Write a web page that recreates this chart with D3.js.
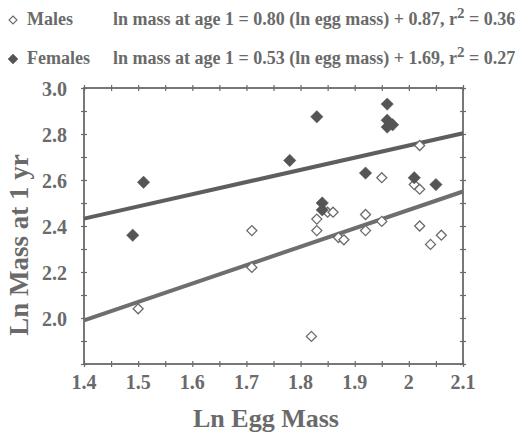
<!DOCTYPE html>
<html>
<head>
<meta charset="utf-8">
<script src="https://cdn.jsdelivr.net/npm/d3@7"></script>
<style>
  body { margin: 0; background: #fff; }
  svg { display: block; font-family: "Liberation Serif", "Times New Roman", serif; font-weight: bold; }
</style>
</head>
<body>
<div id="app"></div>
<script>
// ln egg mass vs ln mass at 1 yr
const males = [
  [1.50, 2.04], [1.71, 2.22], [1.71, 2.38], [1.82, 1.92], [1.83, 2.38],
  [1.83, 2.43], [1.85, 2.46], [1.86, 2.46], [1.87, 2.35], [1.88, 2.34],
  [1.92, 2.38], [1.92, 2.45], [1.95, 2.42], [1.95, 2.61], [2.01, 2.58],
  [2.02, 2.56], [2.02, 2.75], [2.02, 2.40], [2.04, 2.32], [2.06, 2.36]
];
const females = [
  [1.49, 2.36], [1.51, 2.59], [1.78, 2.685], [1.83, 2.875], [1.84, 2.50],
  [1.84, 2.47], [1.92, 2.63], [1.96, 2.93], [1.96, 2.86], [1.97, 2.84],
  [1.96, 2.83], [2.01, 2.61], [2.05, 2.58]
];
// fitted lines, endpoints at the frame edges
const maleFit = [[1.4, 1.99], [2.1, 2.55]];
const femaleFit = [[1.4, 2.432], [2.1, 2.803]];

const xTicks = [1.4, 1.5, 1.6, 1.7, 1.8, 1.9, 2.0, 2.1];
const yTicks = [2.0, 2.2, 2.4, 2.6, 2.8, 3.0];
const legendRows = [
  { label: "Males", filled: false, eq: "ln mass at age 1 = 0.80 (ln egg mass) + 0.87, r", r2: " = 0.36" },
  { label: "Females", filled: true, eq: "ln mass at age 1 = 0.53 (ln egg mass) + 1.69, r", r2: " = 0.27" }
];

const width = 521, height = 434;
const grey = "#6a6a6a";
const dark = "#555";

const x = d3.scaleLinear().domain([1.4, 2.1]).range([84, 463]);
const y = d3.scaleLinear().domain([1.8, 3.0]).range([364, 88]);

const svg = d3.select("#app").append("svg").attr("width", width).attr("height", height);

function diamond(r) {
  return `M0,${-r}L${r},0L0,${r}L${-r},0Z`;
}

// FRAME + TICKS (ticks cross the line, on all four sides)
function crossTicks(g, horizontal) {
  g.select(".domain").remove();
  g.selectAll(".tick line")
    .attr(horizontal ? "y1" : "x1", -3)
    .attr(horizontal ? "y2" : "x2", 3)
    .attr("stroke", grey)
    .attr("stroke-width", 1.2);
}
const xMinor = d3.range(14, 21.5, 0.5).map(d => d / 10);
const yMinor = d3.range(18, 30.5, 1).map(d => d / 10);

svg.append("g").attr("transform", `translate(0,${y(1.8)})`)
  .call(d3.axisBottom(x).tickValues(xMinor).tickFormat(""))
  .call(g => crossTicks(g, true));
svg.append("g").attr("transform", `translate(0,${y(3.0)})`)
  .call(d3.axisTop(x).tickValues(xMinor).tickFormat(""))
  .call(g => crossTicks(g, true));
svg.append("g").attr("transform", `translate(${x(1.4)},0)`)
  .call(d3.axisLeft(y).tickValues(yMinor).tickFormat(""))
  .call(g => crossTicks(g, false));
svg.append("g").attr("transform", `translate(${x(2.1)},0)`)
  .call(d3.axisRight(y).tickValues(yMinor).tickFormat(""))
  .call(g => crossTicks(g, false));

svg.append("rect")
  .attr("x", x(1.4)).attr("y", y(3.0))
  .attr("width", x(2.1) - x(1.4)).attr("height", y(1.8) - y(3.0))
  .attr("fill", "none").attr("stroke", grey).attr("stroke-width", 1.8);

// tick labels
svg.append("g").selectAll("text").data(xTicks).join("text")
  .attr("x", d => x(d)).attr("y", 389)
  .attr("text-anchor", "middle").attr("font-size", 20).attr("fill", grey)
  .text(d => d === 2 ? "2" : d3.format(".1f")(d));
svg.append("g").selectAll("text").data(yTicks).join("text")
  .attr("x", 67).attr("y", d => y(d) + 8)
  .attr("text-anchor", "end").attr("font-size", 20).attr("fill", grey)
  .text(d => d3.format(".1f")(d));

// axis titles
svg.append("text")
  .attr("x", 266).attr("y", 427)
  .attr("text-anchor", "middle").attr("font-size", 26).attr("fill", grey)
  .text("Ln Egg Mass");
svg.append("text")
  .attr("transform", "translate(28,245) rotate(-90)")
  .attr("text-anchor", "middle").attr("font-size", 27).attr("fill", grey)
  .text("Ln Mass at 1 yr");

// FIT LINES
const line = d3.line().x(d => x(d[0])).y(d => y(d[1]));
svg.append("path").datum(femaleFit).attr("d", line)
  .attr("fill", "none").attr("stroke", "#5e5e5e").attr("stroke-width", 4);
svg.append("path").datum(maleFit).attr("d", line)
  .attr("fill", "none").attr("stroke", "#6e6e6e").attr("stroke-width", 4);

// POINTS
svg.append("g").selectAll("path").data(males).join("path")
  .attr("transform", d => `translate(${x(d[0])},${y(d[1])})`)
  .attr("d", diamond(5))
  .attr("fill", "#fff").attr("stroke", grey).attr("stroke-width", 1.3);
svg.append("g").selectAll("path").data(females).join("path")
  .attr("transform", d => `translate(${x(d[0])},${y(d[1])})`)
  .attr("d", diamond(6.2))
  .attr("fill", dark).attr("stroke", dark).attr("stroke-width", 0.5);

// LEGEND
const legend = svg.append("g").selectAll("g").data(legendRows).join("g")
  .attr("transform", (d, i) => `translate(0,${25 + i * 39})`);
legend.append("path")
  .attr("transform", "translate(13,-5)")
  .attr("d", d => diamond(d.filled ? 5 : 4))
  .attr("fill", d => d.filled ? dark : "#fff")
  .attr("stroke", d => d.filled ? dark : grey)
  .attr("stroke-width", d => d.filled ? 0.5 : 1.1);
legend.append("text")
  .attr("x", 27).attr("font-size", 18).attr("fill", grey)
  .text(d => d.label);
const eq = legend.append("text")
  .attr("x", 113).attr("font-size", 18).attr("fill", grey);
eq.append("tspan").text(d => d.eq);
eq.append("tspan").attr("dy", -7).attr("font-size", 15).text("2");
eq.append("tspan").attr("dy", 7).text(d => d.r2);
</script>
</body>
</html>
